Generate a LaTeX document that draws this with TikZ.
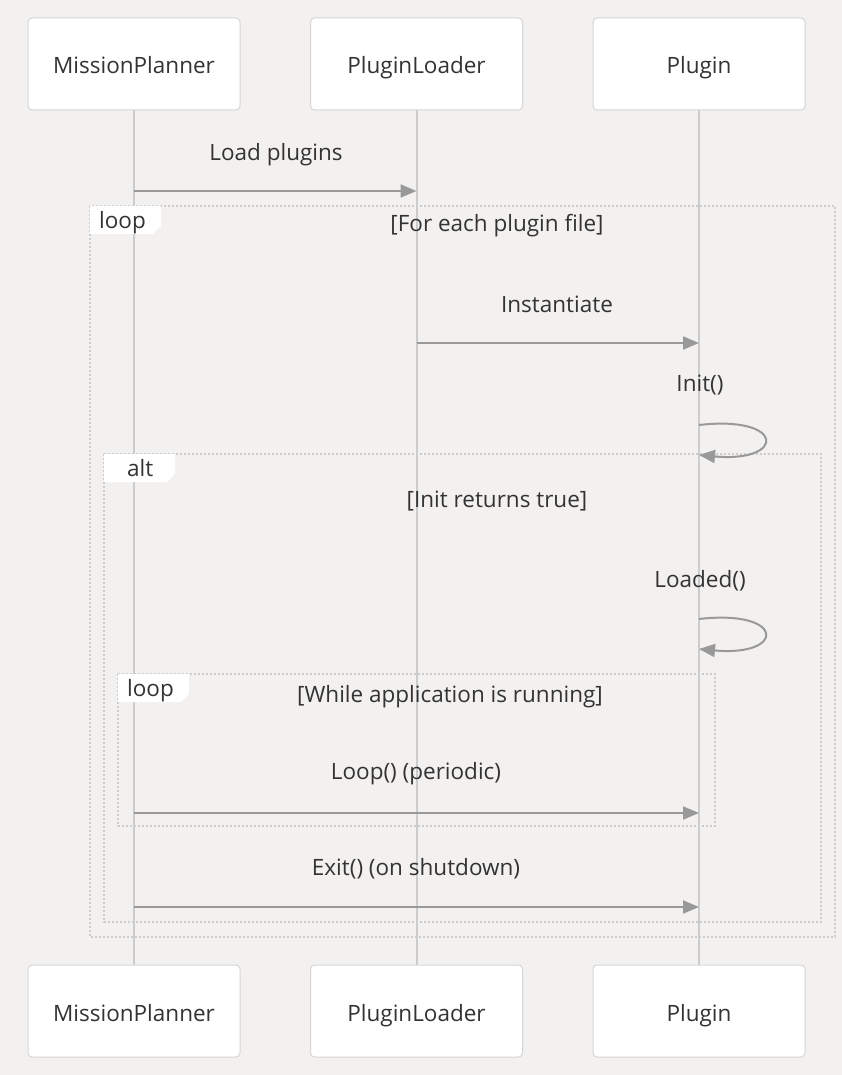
\documentclass[tikz,border=0pt]{standalone}
\usepackage{fontspec}
\setmainfont{Open Sans}
\usetikzlibrary{arrows.meta}
\definecolor{bg}{RGB}{242,241,239}
\definecolor{boxline}{RGB}{214,214,214}
\definecolor{life}{RGB}{204,204,204}
\definecolor{msg}{RGB}{153,153,153}
\definecolor{txt}{RGB}{51,51,51}
\definecolor{frameline}{RGB}{204,204,204}
\tikzset{
  actor/.style={draw=boxline, line width=1pt, fill=white, rounded corners=4pt,
    minimum width=212pt, minimum height=92pt, inner sep=0pt, text=txt,
    text height=22pt, text depth=2pt,
    font=\fontsize{22.5}{26}\selectfont},
  lifeline/.style={draw=life, line width=2pt},
  message/.style={draw=msg, line width=2pt, -{Triangle[length=16pt,width=13pt]}},
  msglabel/.style={text=txt, font=\fontsize{22.5}{26}\selectfont, inner sep=0pt,
    text height=16pt, text depth=5pt},
  frame/.style={draw=frameline, line width=2pt, dash pattern=on 2pt off 2pt},
  tab/.style={fill=white, draw=none},
  tablabel/.style={text=txt, font=\fontsize{22.5}{26}\selectfont, inner sep=0pt, anchor=west,
    text height=16pt, text depth=5pt},
}
\begin{document}
\begin{tikzpicture}[x=1pt,y=-1pt]
\fill[bg] (0,0) rectangle (842,1075);
\useasboundingbox (0,0) rectangle (842,1075);

% participants
\node[actor] (mpT) at (134,64) {MissionPlanner};
\node[actor] (plT) at (416.5,64) {PluginLoader};
\node[actor] (pT) at (699,64) {Plugin};
\node[actor] (mpB) at (134,1011) {MissionPlanner};
\node[actor] (plB) at (416.5,1011) {PluginLoader};
\node[actor] (pB) at (699,1011) {Plugin};

% lifelines
\draw[lifeline] (mpT.south) -- (mpB.north);
\draw[lifeline] (plT.south) -- (plB.north);
\draw[lifeline] (pT.south) -- (pB.north);

% outer loop frame
\draw[frame] (90,206) rectangle (835,937);
\fill[tab] (90,206) -- (161,206) -- (161,226) -- (153,234) -- (90,234) -- cycle;
\node[tablabel] (loop1) at (99,223) {loop};
\node[msglabel] (cond1) at (497,226) {[For each plugin file]};

% alt frame
\draw[frame] (104,454) rectangle (821,922);
\fill[tab] (104,454) -- (175,454) -- (175,474) -- (167,482) -- (104,482) -- cycle;
\node[tablabel] (alt1) at (127,471) {alt};
\node[msglabel] (cond2) at (497,502) {[Init returns true]};

% inner loop frame
\draw[frame] (118,674) rectangle (715,826);
\fill[tab] (118,674) -- (189,674) -- (189,694) -- (181,702) -- (118,702) -- cycle;
\node[tablabel] (loop2) at (127,691) {loop};
\node[msglabel] (cond3) at (450,697) {[While application is running]};

% message coordinates
\coordinate (a1) at (mpT.south |- 0,191);
\coordinate (b1) at (plT.south |- 0,191);
\coordinate (a2) at (plT.south |- 0,343);
\coordinate (b2) at (pT.south |- 0,343);
\coordinate (s1a) at (pT.south |- 0,425);
\coordinate (s1b) at (pT.south |- 0,455);
\coordinate (s2a) at (pT.south |- 0,619);
\coordinate (s2b) at (pT.south |- 0,649);
\coordinate (a3) at (mpT.south |- 0,813);
\coordinate (b3) at (pT.south |- 0,813);
\coordinate (a4) at (mpT.south |- 0,907);
\coordinate (b4) at (pT.south |- 0,907);

% messages
\node[msglabel] (l1) at (276,155) {Load plugins};
\draw[message] (a1) -- (b1);
\node[msglabel] (l2) at (557,307) {Instantiate};
\draw[message] (a2) -- (b2);
\node[msglabel] (l3) at (700,386) {Init()};
\draw[message] (s1a) .. controls (786,415) and (786,463) .. (s1b);
\node[msglabel] (l4) at (700,582) {Loaded()};
\draw[message] (s2a) .. controls (786,609) and (786,657) .. (s2b);
\node[msglabel] (l5) at (416,774) {Loop() (periodic)};
\draw[message] (a3) -- (b3);
\node[msglabel] (l6) at (416,870) {Exit() (on shutdown)};
\draw[message] (a4) -- (b4);
\end{tikzpicture}
\end{document}
